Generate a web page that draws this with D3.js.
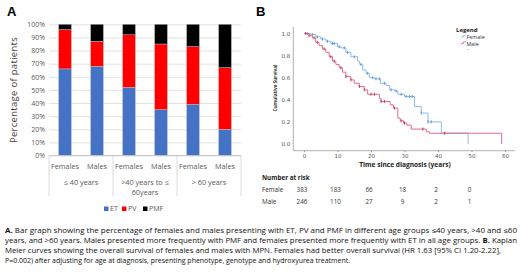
<!DOCTYPE html>
<html>
<head>
<meta charset="utf-8">
<script src="https://cdn.jsdelivr.net/npm/d3@7"></script>
<style>
  body { margin: 0; background: #fff; }
  svg { display: block; font-family: "Open Sans", sans-serif; }
</style>
</head>
<body>
<div id="chart-area"></div>
<script>
// ---- panel A data (percent of patients) ----
var groups = ["≤ 40 years", ">40 years to ≤|60years", "> 60 years"];
var sexes = ["Females", "Males"];
var etValues = [66, 68, 52, 35, 39, 20];
var pvValues = [30, 19, 40, 50, 44, 47];
var pmfValues = [4, 13, 8, 15, 17, 33];
var seriesNames = ["ET", "PV", "PMF"];
var seriesColors = ["#4472C4", "#FF0000", "#000000"];
var pctTicks = [0, 10, 20, 30, 40, 50, 60, 70, 80, 90, 100];

// ---- panel B data (Kaplan Meier steps) ----
var femaleTimes = [0, 2, 3.5, 5, 6.5, 8, 10, 11, 12.5, 14, 16, 16.6, 17.5, 18.5, 19.5, 21, 22.8, 24.5, 25.6, 27, 28, 30, 33, 35, 37, 41, 49];
var femaleSurv = [1.0, 0.99, 0.97, 0.95, 0.93, 0.91, 0.88, 0.87, 0.83, 0.79, 0.75, 0.72, 0.67, 0.64, 0.60, 0.59, 0.55, 0.53, 0.49, 0.48, 0.45, 0.43, 0.34, 0.28, 0.20, 0.10, 0];
var femaleCensor = [1, 2.5, 4, 5.5, 7, 8.5, 9, 10.5, 12, 13, 15, 17, 19, 20.5, 21.5, 22.5, 24, 26, 27.5, 29, 30.5, 31.5, 32.3, 35, 37, 38];
var maleTimes = [0, 1.5, 2.5, 3.5, 4.5, 5.5, 6.5, 7.5, 8.5, 9.5, 10.5, 11.5, 12.5, 14, 15, 16.5, 18, 19, 22.5, 23, 25.7, 26.7, 28, 28.7, 29.7, 30.7, 32, 36.5, 37.5, 59];
var maleSurv = [1.0, 0.98, 0.96, 0.92, 0.89, 0.86, 0.83, 0.79, 0.75, 0.72, 0.69, 0.65, 0.61, 0.58, 0.55, 0.52, 0.49, 0.45, 0.41, 0.385, 0.355, 0.325, 0.235, 0.21, 0.19, 0.17, 0.135, 0.11, 0.097, 0];
var maleCensor = [0.5, 1.5, 3, 4, 6, 8, 9, 11, 12.5, 14, 16.5, 18, 20, 21, 23, 24, 27, 29, 30, 35.5, 42];
var riskTimes = [0, 10, 20, 30, 40, 50];
var femaleRisk = [383, 183, 66, 18, 2, 0];
var maleRisk = [246, 110, 27, 9, 2, 1];
var survTicks = [0, 0.2, 0.4, 0.6, 0.8, 1.0];
var timeTicks = [0, 10, 20, 30, 40, 50, 60];

var captionLines = [
  [["A.", true], [" Bar graph showing the percentage of females and males presenting with ET, PV and PMF in different  age groups ≤40 years, >40 and ≤60", false]],
  [["years, and >60 years. Males presented more frequently with PMF and females presented more frequently with ET in all age groups. ", false], ["B.", true], [" Kaplan", false]],
  [["Meier curves showing the overall survival of females and males with MPN. Females had better overall survival (HR 1.63 [95% CI 1.20-2.22],", false]],
  [["P=0.002) after adjusting for age at diagnosis, presenting phenotype, genotype and hydroxyurea treatment.", false]]
];
var captionWidths = [512, 512, 496, 345];

var svg = d3.select("#chart-area")
    .append("svg")
    .attr("width", 520)
    .attr("height", 274);

// ================= Panel A =================
var bars = [];
groups.forEach((g, gi) => {
    sexes.forEach((s, si) => {
        var i = gi * 2 + si;
        bars.push({ key: i, sex: s, vals: [etValues[i], pvValues[i], pmfValues[i]] });
    });
});

var x = d3.scaleBand()
    .domain(bars.map((d) => d.key))
    .range([49, 241])
    .paddingInner(0.6)
    .paddingOuter(0.3);

var y = d3.scaleLinear()
    .domain([0, 100])
    .range([155.5, 24.3]);

svg.append("text")
    .attr("x", 7).attr("y", 16)
    .attr("font-family", "Liberation Sans, Arial, sans-serif")
    .attr("font-weight", "bold").attr("font-size", 13)
    .text("A");

// gridlines + tick labels
var gA = svg.append("g");
gA.append("g")
    .attr("transform", "translate(49,0)")
    .call(d3.axisLeft(y).tickValues(pctTicks).tickSize(-192).tickFormat(d => d + "%"))
    .call(g => g.select(".domain").remove())
    .call(g => g.selectAll("line").attr("stroke", "#d9d9d9").attr("stroke-width", 0.8))
    .call(g => g.selectAll("text").attr("x", -4).attr("fill", "#595959")
        .attr("font-size", 7).attr("font-family", "Open Sans, sans-serif"));

var stack = [];
bars.forEach((b) => {
    var base = 0;
    b.vals.forEach((v, k) => {
        stack.push({ key: b.key, y0: base, y1: base + v, k: k });
        base += v;
    });
});

gA.selectAll(".seg")
    .data(stack)
    .enter()
    .append("rect")
    .attr("class", "seg")
    .attr("x", (d) => x(d.key))
    .attr("y", (d) => y(d.y1))
    .attr("width", x.bandwidth())
    .attr("height", (d) => y(d.y0) - y(d.y1))
    .attr("fill", (d) => seriesColors[d.k])
    .attr("stroke", "#c9c9c9")
    .attr("stroke-width", 0.4);

// category axis
gA.append("line")
    .attr("x1", 49).attr("x2", 241)
    .attr("y1", y(0)).attr("y2", y(0))
    .attr("stroke", "#bfbfbf").attr("stroke-width", 0.8);

[0, 1, 2, 3].forEach((i) => {
    var xx = 49 + i * 64;
    gA.append("line")
        .attr("x1", xx).attr("x2", xx)
        .attr("y1", y(0)).attr("y2", 196)
        .attr("stroke", "#d0d0d0").attr("stroke-width", 0.8);
});

gA.selectAll(".sexlab")
    .data(bars)
    .enter()
    .append("text")
    .attr("class", "sexlab")
    .attr("x", (d) => x(d.key) + x.bandwidth() / 2)
    .attr("y", 168.5)
    .attr("text-anchor", "middle")
    .attr("font-size", 7.3)
    .attr("fill", "#595959")
    .text((d) => d.sex);

groups.forEach((g, gi) => {
    var cx = (x(gi * 2) + x(gi * 2 + 1) + x.bandwidth()) / 2;
    g.split("|").forEach((line, li) => {
        gA.append("text")
            .attr("x", cx)
            .attr("y", 184.5 + li * 10)
            .attr("text-anchor", "middle")
            .attr("font-size", 7.3)
            .attr("fill", "#595959")
            .text(line);
    });
});

gA.append("text")
    .attr("transform", "translate(17,90) rotate(-90)")
    .attr("text-anchor", "middle")
    .attr("font-size", 9.5)
    .attr("fill", "#404040")
    .attr("letter-spacing", 0.3)
    .text("Percentage of patients");

// legend A
var legX = [104, 122, 143];
seriesNames.forEach((s, k) => {
    gA.append("rect")
        .attr("x", legX[k]).attr("y", 206.5)
        .attr("width", 4.5).attr("height", 4.5)
        .attr("fill", seriesColors[k]);
    gA.append("text")
        .attr("x", legX[k] + 6).attr("y", 211.3)
        .attr("font-size", 7)
        .attr("fill", "#595959")
        .text(s);
});

// ================= Panel B =================
var gB = svg.append("g");
gB.append("text")
    .attr("x", 256).attr("y", 16)
    .attr("font-family", "Liberation Sans, Arial, sans-serif")
    .attr("font-weight", "bold").attr("font-size", 13)
    .text("B");

var tx = d3.scaleLinear().domain([0, 60]).range([304, 505]);
var sy = d3.scaleLinear().domain([0, 1]).range([144, 33.5]);

// frame lines
gB.append("line")
    .attr("x1", 293.3).attr("x2", 293.3).attr("y1", 27).attr("y2", 150.7)
    .attr("stroke", "#9a9a9a").attr("stroke-width", 0.8);
gB.append("line")
    .attr("x1", 293.3).attr("x2", 515).attr("y1", 150.7).attr("y2", 150.7)
    .attr("stroke", "#9a9a9a").attr("stroke-width", 0.8);

gB.append("g")
    .attr("transform", "translate(293.3,0)")
    .call(d3.axisLeft(sy).tickValues(survTicks).tickSize(0).tickFormat(d3.format(".1f")))
    .call(g => g.select(".domain").remove())
    .call(g => g.selectAll("text").attr("x", -3).attr("fill", "#555")
        .attr("font-size", 5.5).attr("font-family", "DejaVu Sans, sans-serif"));

gB.append("g")
    .attr("transform", "translate(0,150.7)")
    .call(d3.axisBottom(tx).tickValues(timeTicks).tickSize(1.5).tickFormat(d => d))
    .call(g => g.select(".domain").remove())
    .call(g => g.selectAll("line").attr("stroke", "#9a9a9a"))
    .call(g => g.selectAll("text").attr("y", 3).attr("fill", "#555")
        .attr("font-size", 5.5).attr("font-family", "DejaVu Sans, sans-serif"));

gB.append("text")
    .attr("x", 405).attr("y", 166.5)
    .attr("text-anchor", "middle")
    .attr("font-weight", "bold")
    .attr("font-size", 6.6)
    .attr("fill", "#222")
    .text("Time since diagnosis (years)");

gB.append("text")
    .attr("transform", "translate(277,88) rotate(-90)")
    .attr("text-anchor", "middle")
    .attr("font-weight", "bold")
    .attr("font-size", 5.6)
    .attr("fill", "#333")
    .attr("textLength", 47)
    .attr("lengthAdjust", "spacingAndGlyphs")
    .text("Cumulative Survival");

function kmCurve(times, surv, censor, lineColor, markColor) {
    var pts = times.map((t, i) => [t, surv[i]]);
    var line = d3.line()
        .x((d) => tx(d[0]))
        .y((d) => sy(d[1]))
        .curve(d3.curveStepAfter);
    gB.append("path")
        .datum(pts)
        .attr("d", line)
        .attr("fill", "none")
        .attr("stroke", lineColor)
        .attr("stroke-width", 1);
    var survAt = (t) => {
        var v = 1;
        times.forEach((tt, i) => { if (tt <= t) v = surv[i]; });
        return v;
    };
    censor.forEach((c) => {
        var cx = tx(c), cy = sy(survAt(c));
        gB.append("line")
            .attr("x1", cx).attr("x2", cx).attr("y1", cy - 1.5).attr("y2", cy + 1.5)
            .attr("stroke", markColor).attr("stroke-width", 0.9);
    });
}

kmCurve(femaleTimes, femaleSurv, femaleCensor, "#8fbbe6", "#4d8fd6");
kmCurve(maleTimes, maleSurv, maleCensor, "#dc6f88", "#c2264d");

// legend B
gB.append("text")
    .attr("x", 456).attr("y", 32)
    .attr("font-weight", "bold").attr("font-size", 6)
    .attr("fill", "#222")
    .text("Legend");
var legB = [["Female", "#8fbbe6", 38], ["Male", "#dc6f88", 44.5]];
legB.forEach((d) => {
    gB.append("path")
        .attr("d", "M461," + (d[2] - 1) + " h2.5 v-1.6 h2.5")
        .attr("fill", "none").attr("stroke", d[1]).attr("stroke-width", 0.8);
    gB.append("text")
        .attr("x", 466.5).attr("y", d[2] + 1)
        .attr("font-size", 5.4).attr("fill", "#333")
        .text(d[0]);
});
gB.append("line")
    .attr("x1", 467).attr("x2", 469).attr("y1", 49.5).attr("y2", 49.5)
    .attr("stroke", "#bbb").attr("stroke-width", 0.6);

// number at risk table
gB.append("text")
    .attr("x", 262).attr("y", 180)
    .attr("font-weight", "bold").attr("font-size", 6.3)
    .attr("fill", "#222")
    .text("Number at risk");
[["Female", femaleRisk, 191.8], ["Male", maleRisk, 204]].forEach((row) => {
    gB.append("text")
        .attr("x", 262).attr("y", row[2])
        .attr("font-size", 6.3).attr("fill", "#333")
        .text(row[0]);
    gB.selectAll(null)
        .data(row[1])
        .enter()
        .append("text")
        .attr("x", (d, i) => tx(riskTimes[i]) - 2)
        .attr("y", row[2])
        .attr("text-anchor", "middle")
        .attr("font-size", 6.3).attr("fill", "#333")
        .text((d) => d);
});

// ================= Caption =================
captionLines.forEach((parts, li) => {
    var t = svg.append("text")
        .attr("x", 5)
        .attr("y", 233 + li * 10)
        .attr("font-size", 7.2)
        .attr("fill", "#111")
        .attr("textLength", captionWidths[li])
        .attr("lengthAdjust", "spacingAndGlyphs");
    parts.forEach((p) => {
        t.append("tspan")
            .attr("font-weight", p[1] ? "bold" : "normal")
            .text(p[0]);
    });
});
</script>
</body>
</html>
